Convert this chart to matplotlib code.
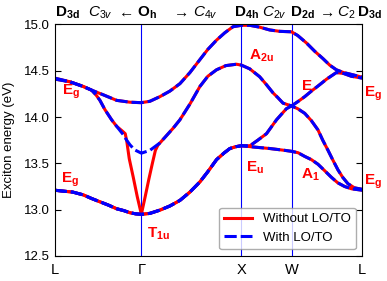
import matplotlib
matplotlib.use('Agg')
import matplotlib.pyplot as plt
from matplotlib.ticker import FormatStrFormatter

plt.rcParams['font.family'] = ['Liberation Sans', 'DejaVu Sans']
plt.rcParams['mathtext.fontset'] = 'custom'
plt.rcParams['mathtext.rm'] = 'Liberation Sans'
plt.rcParams['mathtext.it'] = 'Liberation Sans:italic'
plt.rcParams['mathtext.bf'] = 'Liberation Sans:bold'

# high symmetry points along L-G-X-W-L
sym_k = [0.0, 0.866, 1.866, 2.366, 3.073]
sym_labels = ['L', '\u0393', 'X', 'W', 'L']

# band 1 (lowest): L -> G -> X -> W(A1) -> L
k1 = [0.0, 0.086, 0.18, 0.285, 0.37, 0.452, 0.535, 0.619, 0.69, 0.752, 0.81, 0.866,
      0.951, 1.051, 1.151, 1.251, 1.351, 1.451, 1.53, 1.617, 1.69, 1.75, 1.81, 1.866,
      2.0, 2.15, 2.3, 2.366,
      2.431, 2.498, 2.565, 2.631, 2.698, 2.764, 2.828, 2.897, 2.967, 3.073]
e1 = [13.21, 13.20, 13.19, 13.16, 13.12, 13.085, 13.05, 13.01, 12.99, 12.967, 12.955, 12.95,
      12.96, 12.995, 13.04, 13.10, 13.19, 13.30, 13.41, 13.54, 13.61, 13.66, 13.68, 13.69,
      13.675, 13.66, 13.64, 13.63,
      13.615, 13.575, 13.54, 13.49, 13.42, 13.35, 13.29, 13.25, 13.225, 13.21]

# band 2: same as band 1 up to X, then X -> W(E) -> L
k2 = k1[:24] + [1.951, 2.029, 2.116, 2.216, 2.315, 2.366,
                2.428, 2.498, 2.565, 2.631, 2.678, 2.731, 2.777, 2.83, 2.877, 2.93, 2.997, 3.073]
e2 = e1[:24] + [13.69, 13.75, 13.82, 13.97, 14.09, 14.12,
                14.09, 14.04, 13.96, 13.86, 13.75, 13.64, 13.54, 13.43, 13.35, 13.28, 13.235, 13.22]

# band 3 with LO/TO
k3 = [0.0, 0.153, 0.285, 0.369, 0.412, 0.452, 0.502, 0.569, 0.619, 0.685, 0.719, 0.752, 0.80, 0.866,
      0.951, 1.051, 1.101, 1.184, 1.251, 1.351, 1.451, 1.53, 1.617, 1.71, 1.816, 1.866,
      1.949, 2.048, 2.115, 2.182, 2.229, 2.281, 2.366,
      2.428, 2.498, 2.565, 2.631, 2.718, 2.814, 2.887, 2.964, 3.073]
e3 = [14.41, 14.38, 14.33, 14.29, 14.24, 14.18, 14.08, 13.97, 13.90, 13.81, 13.75, 13.70, 13.645, 13.61,
      13.64, 13.72, 13.78, 13.88, 13.97, 14.14, 14.33, 14.44, 14.51, 14.555, 14.57, 14.56,
      14.52, 14.435, 14.35, 14.26, 14.21, 14.15, 14.12,
      14.165, 14.22, 14.28, 14.335, 14.41, 14.48, 14.47, 14.44, 14.42]

# band 3 without LO/TO (differs only around G)
k3_red = k3[:9] + [0.652, 0.685, 0.705, 0.72, 0.745, 0.785, 0.825, 0.866,
                   0.906, 0.941, 0.976, 1.006, 1.031] + k3[15:]
e3_red = e3[:9] + [13.87, 13.84, 13.82, 13.74, 13.55, 13.35, 13.14, 12.95,
                   13.15, 13.33, 13.50, 13.64, 13.695] + e3[15:]

# band 4 (highest)
k4 = [0.0, 0.153, 0.285, 0.369, 0.485, 0.619, 0.752, 0.866,
      0.951, 1.051, 1.151, 1.251, 1.351, 1.451, 1.53, 1.617, 1.70, 1.782, 1.866,
      1.949, 2.048, 2.148, 2.248, 2.366,
      2.428, 2.515, 2.598, 2.681, 2.748, 2.814, 2.887, 2.964, 3.073]
e4 = [14.42, 14.38, 14.33, 14.29, 14.24, 14.18, 14.16, 14.155,
      14.17, 14.22, 14.28, 14.36, 14.48, 14.62, 14.73, 14.83, 14.91, 14.975, 14.99,
      14.99, 14.97, 14.94, 14.925, 14.92,
      14.88, 14.80, 14.71, 14.63, 14.56, 14.51, 14.48, 14.46, 14.43]

top_labels = [r'$\mathbf{D_{3d}}$', r'$C_{3v}$', r'$\leftarrow$', r'$\mathbf{O_h}$', r'$\rightarrow$',
              r'$C_{4v}$', r'$\mathbf{D_{4h}}$', r'$C_{2v}$', r'$\mathbf{D_{2d}}$', r'$\rightarrow$',
              r'$C_2$', r'$\mathbf{D_{3d}}$']
top_k = [0.123, 0.452, 0.697, 0.921, 1.25, 1.505, 1.919, 2.199, 2.478, 2.70, 2.912, 3.147]

irrep_labels = [r'$\mathbf{E_g}$', r'$\mathbf{E_g}$', r'$\mathbf{T_{1u}}$', r'$\mathbf{A_{2u}}$',
                r'$\mathbf{E}$', r'$\mathbf{E_u}$', r'$\mathbf{A_1}$', r'$\mathbf{E_g}$', r'$\mathbf{E_g}$']
irrep_k = [0.073, 0.063, 0.918, 1.942, 2.458, 1.909, 2.458, 3.09, 3.09]
irrep_e = [14.238, 13.29, 12.70, 14.616, 14.29, 13.41, 13.338, 14.22, 13.273]

fig = plt.figure(figsize=(3.87, 2.81), dpi=100)
ax = fig.add_axes([0.1413, 0.089, 0.7948, 0.8242])

lw = 2.2
for kk, ee in [(k1, e1), (k2, e2), (k3_red, e3_red), (k4, e4)]:
    ax.plot(kk, ee, color='red', lw=lw, solid_capstyle='butt')
for kk, ee in [(k1, e1), (k2, e2), (k3, e3), (k4, e4)]:
    ax.plot(kk, ee, color='blue', lw=lw, dashes=(4, 1.3))

for k in sym_k[1:-1]:
    ax.axvline(k, color='blue', lw=0.8, zorder=0)

ax.plot([], [], color='red', lw=lw, label='Without LO/TO')
ax.plot([], [], color='blue', lw=lw, dashes=(4, 1.3), label='With LO/TO')
# only use the two empty handles for legend
handles, labels = ax.get_legend_handles_labels()
ax.legend(handles[-2:], labels[-2:], loc='lower right', fontsize=9.5, handlelength=2.1,
          edgecolor='0.6', fancybox=True, borderaxespad=0.5)

for lab, k in zip(top_labels, top_k):
    ax.text(k, 1.033, lab, transform=ax.get_xaxis_transform(), ha='center', va='baseline',
            fontsize=11, clip_on=False)

for lab, k, e in zip(irrep_labels, irrep_k, irrep_e):
    ax.text(k, e, lab, color='red', fontsize=11, ha='left', va='baseline', clip_on=False)

ax.set_xlim(0, 3.073)
ax.set_ylim(12.5, 15.0)
ax.set_xticks(sym_k)
ax.set_xticklabels(sym_labels, fontsize=10.5)
ax.set_yticks([12.5, 13.0, 13.5, 14.0, 14.5, 15.0])
ax.yaxis.set_major_formatter(FormatStrFormatter('%.1f'))
ax.tick_params(axis='y', direction='in', right=True, labelsize=9.5, length=4)
ax.tick_params(axis='x', direction='in', length=0, pad=5)
ax.set_ylabel('Exciton energy (eV)', fontsize=9.5)
ax.yaxis.set_label_coords(-0.13, 0.5)

fig.savefig('out.png', dpi=100)
